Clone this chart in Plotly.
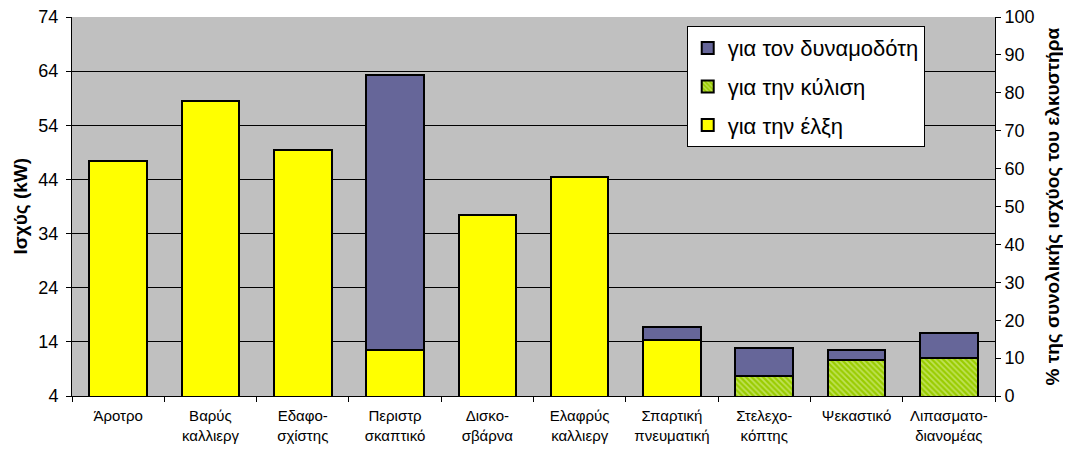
import plotly.graph_objects as go

categories = ["Άροτρο", "Βαρύς<br>καλλιεργ", "Εδαφο-<br>σχίστης", "Περιστρ<br>σκαπτικό",
              "Δισκο-<br>σβάρνα", "Ελαφρύς<br>καλλιεργ", "Σπαρτική<br>πνευματική",
              "Στελεχο-<br>κόπτης", "Ψεκαστικό", "Λιπασματο-<br>διανομέας"]
elxi = [47.4, 58.5, 49.4, 12.5, 37.4, 44.4, 14.3, 0, 0, 0]
kylisi = [0, 0, 0, 0, 0, 0, 0, 7.7, 10.6, 11.0]
dynamodotis = [0, 0, 0, 50.8, 0, 0, 2.4, 5.2, 1.9, 4.6]

left_ticks = [4, 14, 24, 34, 44, 54, 64, 74]
right_ticks = [0, 10, 20, 30, 40, 50, 60, 70, 80, 90, 100]

FONT = "Liberation Sans, Arial, sans-serif"
line = dict(color="black", width=2)

fig = go.Figure()
fig.add_trace(go.Bar(x=categories, y=elxi, name="για την έλξη", legendgroup="a", legendrank=3,
                     marker=dict(color="#FFFF00", line=line), width=0.625))
fig.add_trace(go.Bar(x=categories, y=kylisi, name="για την κύλιση", legendgroup="b", legendrank=2,
                     marker=dict(color="#99CC00", line=line,
                                 pattern=dict(shape="\\", fgcolor="#E8F7B0", bgcolor="#99CC00",
                                              size=4, solidity=0.45)),
                     width=0.625))
fig.add_trace(go.Bar(x=categories, y=dynamodotis, name="για τον δυναμοδότη", legendgroup="c",
                     legendrank=1, marker=dict(color="#666699", line=line), width=0.625))
# activates the secondary (percentage) axis
fig.add_trace(go.Scatter(x=[], y=[], yaxis="y2", showlegend=False, hoverinfo="skip"))

fig.update_layout(
    width=1071, height=450,
    margin=dict(l=64, r=84, t=9, b=62, autoexpand=False),
    barmode="stack",
    plot_bgcolor="#C0C0C0",
    paper_bgcolor="white",
    font=dict(family=FONT, size=15, color="black"),
    legend=dict(x=0.666, y=0.976, xanchor="left", yanchor="top",
                bgcolor="white", bordercolor="black", borderwidth=1,
                traceorder="grouped", tracegroupgap=7,
                font=dict(size=22, family=FONT)),
    xaxis=dict(showline=True, linecolor="black", linewidth=1, ticks="outside",
               ticklen=5, tickcolor="black", tickson="boundaries", ticklabelstandoff=6,
               tickfont=dict(size=15), mirror=False, automargin=False),
    yaxis=dict(range=[4, 74], tickvals=left_ticks, showgrid=True, gridcolor="black",
               gridwidth=1, showline=True, linecolor="black", linewidth=1,
               ticks="outside", ticklen=5, tickcolor="black", tickfont=dict(size=18),
               ticklabelstandoff=4, ticklabeloverflow="allow",
               zeroline=False, automargin=False),
    yaxis2=dict(range=[0, 100], tickvals=right_ticks, overlaying="y", side="right",
                showgrid=False, showline=True, linecolor="black", linewidth=1,
                ticks="outside", ticklen=5, tickcolor="black", tickfont=dict(size=18),
                ticklabeloverflow="allow", zeroline=False, automargin=False),
)
fig.add_annotation(text="<b>Ισχύς (kW)</b>", textangle=-90,
                   xref="paper", yref="paper", x=-0.0563, y=0.5, showarrow=False,
                   xanchor="center", yanchor="middle",
                   font=dict(size=19, family=FONT))
fig.add_annotation(text="<b>% της συνολικής ισχύος του ελκυστήρα</b>", textangle=-90,
                   xref="paper", yref="paper", x=1.0628, y=0.5, showarrow=False,
                   xanchor="center", yanchor="middle",
                   font=dict(size=19, family=FONT))
fig.write_html("out.html")
